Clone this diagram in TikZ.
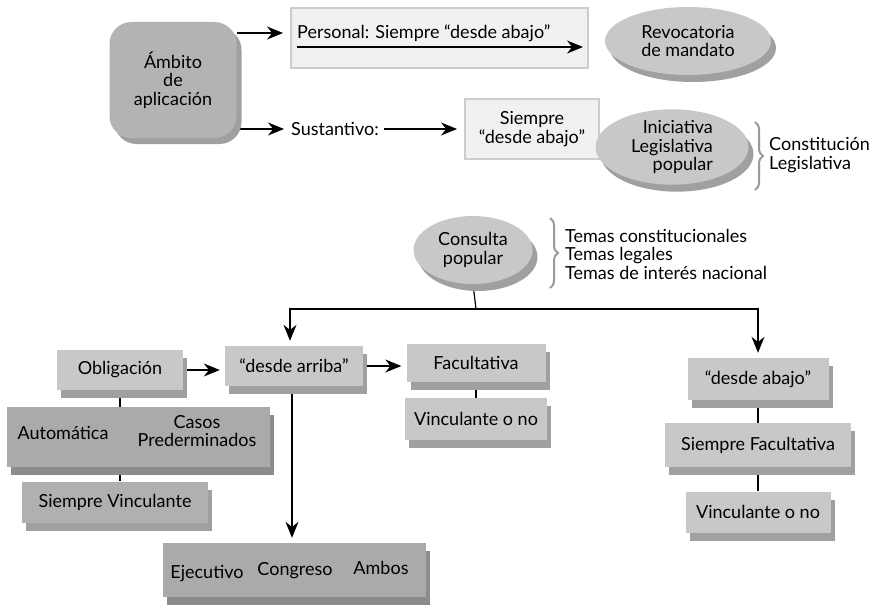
\documentclass[tikz,border=0pt]{standalone}
\usepackage{fontspec}
\setmainfont{Lato}
\usetikzlibrary{shapes.geometric,shadows,arrows.meta,decorations.pathreplacing,backgrounds}

\definecolor{blockface}{HTML}{C8C8C8}
\definecolor{blockside}{HTML}{A0A0A0}
\definecolor{darkface}{HTML}{AAAAAA}
\definecolor{darkside}{HTML}{8C8C8C}
\definecolor{paleface}{HTML}{F1F1F1}
\definecolor{paleline}{HTML}{CCCCCC}
\definecolor{bracegray}{HTML}{9A9A9A}

\begin{document}
\begin{tikzpicture}[x=1pt,y=-1pt]
   \tikzstyle{every node}=[font=\fontsize{18}{18.5}\selectfont, inner sep=0pt, align=center]
   \tikzstyle{block}=[fill=blockface, general shadow={fill=blockside, shadow xshift=4pt, shadow yshift=-8pt}]
   \tikzstyle{darkblock}=[fill=darkface, general shadow={fill=darkside, shadow xshift=4pt, shadow yshift=-8pt}]
   \tikzstyle{pale}=[fill=paleface, draw=paleline, line width=2pt]
   \tikzstyle{disc}=[ellipse, fill=blockface, general shadow={fill=blockside, shadow xshift=5pt, shadow yshift=-7pt}]
   \tikzstyle{arr}=[line width=1.3pt, -{Stealth[length=16pt,width=13pt]}]
   \tikzstyle{link}=[line width=1.2pt]
   \tikzstyle{brace}=[decorate, decoration={brace, amplitude=8pt}, draw=bracegray, line width=2pt]

\useasboundingbox (0,0) rectangle (878,610);

% upper part
\node[fill=darkface!70!blockface, rounded corners=22pt, minimum width=127pt, minimum height=116pt,
      general shadow={fill=blockside, rounded corners=22pt, shadow xshift=5pt, shadow yshift=-6pt}]
      (ambito) at (173,80) {Ámbito\\de\\aplicación};
\node[pale, minimum width=297pt, minimum height=60pt] (personal) at (439.5,38) {};
\node[anchor=base west] (personaltxt) at (297,39) {Personal: Siempre “desde abajo”};
\coordinate (pstart) at (297,47);
\coordinate (pend) at (583,47);
\node[disc, minimum width=166pt, minimum height=68pt] (revoc) at (688,41) {Revocatoria\\de mandato};

\node[anchor=west] (sust) at (291,129) {Sustantivo:};
\node[pale, minimum width=134pt, minimum height=60pt] (siempre) at (532,129) {Siempre\\“desde abajo”};
\node[disc, minimum width=153pt, minimum height=70pt, align=right] (inic) at (672,147) {Iniciativa\\Legislativa\\popular};
\draw[brace] (755,122) -- (755,190);
\node[anchor=west, align=left] (constit) at (769,155) {Constitución\\Legislativa};

\node[disc, minimum width=119pt, minimum height=68pt] (consulta) at (473,250) {Consulta\\popular};
\draw[brace] (550,218) -- (550,288);
\node[anchor=west, align=left] (temas) at (565,254) {Temas constitucionales\\Temas legales\\Temas de interés nacional};
\coordinate (split) at (476,309);

% left branch
\node[block, minimum width=126pt, minimum height=40pt] (oblig) at (120,370) {Obligación};
\node[block, minimum width=138pt, minimum height=40pt] (arriba) at (294,366) {“desde arriba”};
\node[block, minimum width=139pt, minimum height=38pt] (facult) at (476,363) {Facultativa};
\node[block, minimum width=142pt, minimum height=42pt] (vinc) at (476,419) {Vinculante o no};
\node[darkblock, minimum width=263pt, minimum height=60pt] (autom) at (138,437) {};
\node (automtxt) at (63,433) {Automática};
\node (casos) at (197,431) {Casos\\Prederminados};
\node[block, fill=darkface!80!blockface, minimum width=186pt, minimum height=41pt] (siemprev) at (115,502) {Siempre Vinculante};
\node[darkblock, minimum width=263pt, minimum height=54pt] (ejec) at (294,570) {};
\node (ejectxt) at (207,574) {Ejecutivo};
\node (congtxt) at (295,571) {Congreso};
\node (ambostxt) at (381,568) {Ambos};

% right branch
\node[block, minimum width=141pt, minimum height=42pt] (abajo) at (758,379) {“desde abajo”};
\node[block, minimum width=186pt, minimum height=44pt] (siempref) at (758,445) {Siempre Facultativa};
\node[block, minimum width=145pt, minimum height=41pt] (vincb) at (758,512) {Vinculante o no};

\draw[arr] (pstart) -- (pend);
\begin{scope}[on background layer]
\draw[arr] ([yshift=47pt]ambito.east) -- ([xshift=-7pt,yshift=5pt]personal.west);
\draw[arr] ([yshift=-49pt]ambito.east) -- ([xshift=-7pt]sust.west);
\draw[arr] ([xshift=5pt]sust.east) -- ([xshift=-7pt]siempre.west);
\draw[link] (consulta.south) -- (split);
\draw[arr] (split) -| ([yshift=5pt]arriba.north -| 290,0);
\draw[arr] (split) -| ([yshift=5pt]abajo.north);
\draw[arr, shorten >=5pt] (oblig.east) -- (oblig.east -| arriba.west);
\draw[arr, shorten >=5pt] (arriba.east) -- (arriba.east -| facult.west);
\draw[arr, shorten >=5pt] (arriba.south -| 292,0) -- (ejec.north -| 292,0);
\draw[link] (oblig.south) -- (oblig.south |- siemprev.north);
\draw[link] (facult.south) -- (vinc.north);
\draw[link] (abajo.south) -- (vincb.north);
\end{scope}

\end{tikzpicture}
\end{document}
